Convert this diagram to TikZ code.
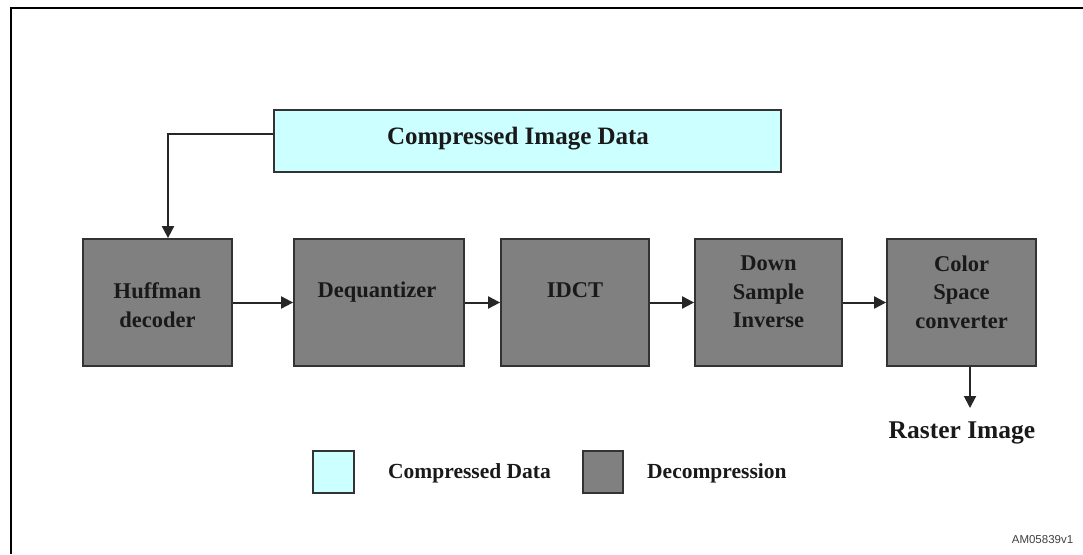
\documentclass[tikz,border=0pt]{standalone}
\usepackage{fontspec}
\setmainfont{Liberation Serif}
\newfontfamily\sansf{Liberation Sans}
\usetikzlibrary{arrows.meta}
\definecolor{cyanfill}{HTML}{CCFFFF}
\definecolor{boxgray}{HTML}{808080}
\definecolor{edgecol}{HTML}{333333}
\begin{document}
\begin{tikzpicture}[x=1pt,y=-1pt,
  gbox/.style={draw=edgecol,line width=1.8pt,fill=boxgray,minimum height=127pt,inner sep=0pt},
  cbox/.style={draw=edgecol,line width=1.8pt,fill=cyanfill,inner sep=0pt},
  lbl/.style={font=\bfseries\fontsize{22.5}{28.5}\selectfont,align=center,inner sep=0pt,text=black!90},
  legtxt/.style={font=\bfseries\fontsize{21.5}{26}\selectfont,inner sep=0pt,anchor=west,text=black!90},
  arr/.style={line width=2pt,draw=black!85,-{Triangle[length=12pt,width=12pt]}}]
\useasboundingbox (0,0) rectangle (1083,554);
% outer frame (partly outside the picture)
\draw[line width=2pt] (11,554) -- (11,8) -- (1083,8);
% compressed image data
\node[cbox,minimum width=507pt,minimum height=62pt] (cid) at (527.5,141) {};
\node[font=\bfseries\fontsize{25}{30}\selectfont,inner sep=0pt,text=black!90] (cidt) at (518,139) {Compressed Image Data};
% decompression blocks
\node[gbox,minimum width=149pt] (huff) at (157.5,302.5) {};
\node[gbox,minimum width=170pt] (deq) at (379,302.5) {};
\node[gbox,minimum width=148pt] (idct) at (575,302.5) {};
\node[gbox,minimum width=147pt] (down) at (768.5,302.5) {};
\node[gbox,minimum width=149pt] (cs) at (961.5,302.5) {};
\node[lbl] (huffl) at (157.5,305) {Huffman\\decoder};
\node[lbl] (deql) at (377,292) {Dequantizer};
\node[lbl] (idctl) at (575,290) {IDCT};
\node[lbl] (downl) at (768.5,292) {Down\\Sample\\Inverse};
\node[lbl] (csl) at (961.5,292) {Color\\Space\\converter};
% connectors
\draw[arr] ([yshift=7pt]cid.west) -| ([xshift=10.5pt]huff.north);
\draw[arr] (huff) -- (deq);
\draw[arr] (deq) -- (idct);
\draw[arr] (idct) -- (down);
\draw[arr] (down) -- (cs);
\coordinate (rasterin) at (970,408);
\draw[arr] ([xshift=8.5pt]cs.south) -- (rasterin);
\node[font=\bfseries\fontsize{25.5}{30}\selectfont,inner sep=0pt,text=black!90] (raster) at (962,433) {Raster Image};
% legend
\node[cbox,minimum width=41pt,minimum height=42pt] (legc) at (333.5,472) {};
\node[legtxt] (legct) at (388,473) {Compressed Data};
\node[gbox,minimum width=40pt,minimum height=42pt] (legg) at (603,472) {};
\node[legtxt] (leggt) at (647,473) {Decompression};
% figure id
\node[font=\sansf\fontsize{11.5}{13}\selectfont,inner sep=0pt,text=black!75] (figid) at (1042.5,540) {AM05839v1};
\end{tikzpicture}
\end{document}
